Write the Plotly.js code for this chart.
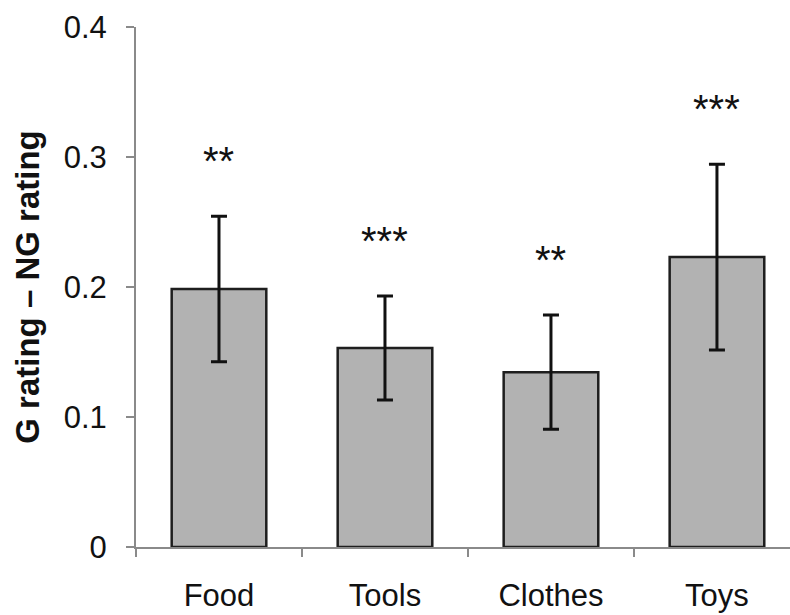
<!DOCTYPE html>
<html>
<head>
<meta charset="utf-8">
<script src="https://cdn.plot.ly/plotly-3.0.1.min.js"></script>
<style>html,body{margin:0;padding:0;background:#fff;}#chart{width:790px;height:615px;}</style>
</head>
<body>
<div id="chart"></div>
<script>
const categories = ["Food", "Tools", "Clothes", "Toys"];
const values = [0.1985, 0.153, 0.1345, 0.223];
const errors = [0.056, 0.040, 0.044, 0.0715];
const stars = ["**", "***", "**", "***"];
const yTicks = [0, 0.1, 0.2, 0.3, 0.4];
const yTickText = ["0", "0.1", "0.2", "0.3", "0.4"];

const FONT = "Liberation Sans, Arial, Helvetica, sans-serif";

const trace = {
  type: "bar",
  x: categories,
  y: values,
  width: 0.57,
  marker: { color: "#b2b2b2", line: { color: "#1e1e1e", width: 2.5 } },
  error_y: { type: "data", array: errors, visible: true, color: "#111", thickness: 3, width: 8 },
  hoverinfo: "none"
};

const annotations = categories.map((c, i) => ({
  x: c, y: values[i] + errors[i], xref: "x", yref: "y",
  text: stars[i], showarrow: false, yanchor: "middle", yshift: 55,
  font: { family: FONT, size: 40, color: "#111" }
}));

const layout = {
  width: 790, height: 615,
  margin: { l: 136, r: 0, t: 27, b: 68, pad: 0 },
  paper_bgcolor: "#fff", plot_bgcolor: "#fff",
  showlegend: false,
  xaxis: {
    type: "category",
    range: [-0.5, 3.44],
    showline: true, linecolor: "#8a8a8a", linewidth: 2,
    ticks: "outside", tickson: "boundaries", ticklen: 8, tickwidth: 2, tickcolor: "#8a8a8a",
    tickfont: { family: FONT, size: 31, color: "#111" },
    ticklabelstandoff: 20,
    showgrid: false, zeroline: false, fixedrange: true
  },
  yaxis: {
    range: [0, 0.4],
    tickvals: yTicks, ticktext: yTickText,
    showline: true, linecolor: "#8a8a8a", linewidth: 2,
    ticks: "outside", ticklen: 8, tickwidth: 2, tickcolor: "#8a8a8a",
    tickfont: { family: FONT, size: 31, color: "#111" },
    ticklabelstandoff: 13,
    showgrid: false, zeroline: false, fixedrange: true,
    title: { text: "<b>G rating \u2013 NG rating</b>", font: { family: FONT, size: 33, color: "#111" }, standoff: 14 },
    automargin: false
  },
  annotations: annotations
};

Plotly.newPlot("chart", [trace], layout, { staticPlot: true, displayModeBar: false });
</script>
</body>
</html>
